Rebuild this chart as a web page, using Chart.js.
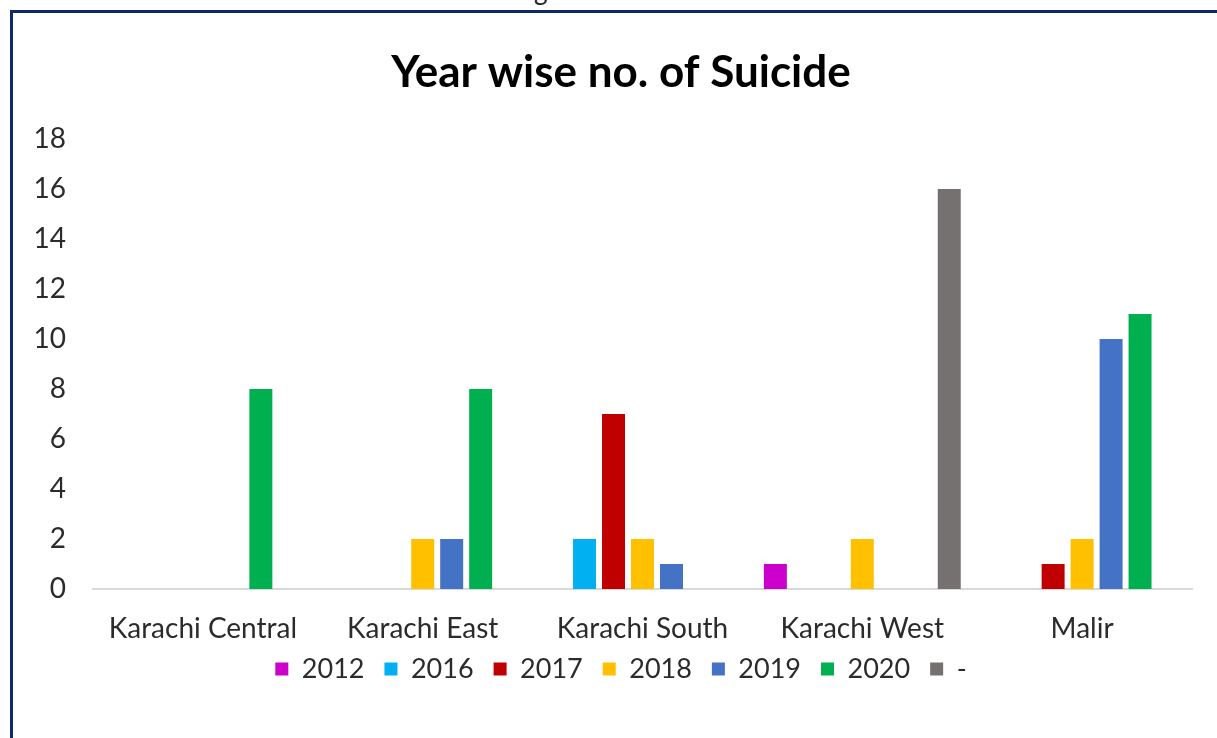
<!DOCTYPE html>
<html>
<head>
<meta charset="utf-8">
<title>Year wise no. of Suicide</title>
<script src="https://cdn.jsdelivr.net/npm/chart.js@4/dist/chart.umd.min.js"></script>
<style>
  html, body { margin: 0; padding: 0; background: #fff; overflow: hidden; width: 1217px; height: 738px; }
  .cut-text { position: absolute; left: 534px; top: -26px; font: 26px Lato, sans-serif; color: #222; }
  .frame {
    position: absolute; left: 10px; top: 10px; width: 1240px; height: 760px;
    border-top: 3px solid #0c2b68; border-left: 3px solid #0c2b68; background: #fff;
  }
  canvas { position: absolute; left: 0; top: 0; }
</style>
</head>
<body>
<div class="cut-text">g</div>
<div class="frame">
  <canvas id="chart" width="1216" height="725"></canvas>
</div>
<script>
  const districts = ['Karachi Central', 'Karachi East', 'Karachi South', 'Karachi West', 'Malir'];
  const years = ['2012', '2016', '2017', '2018', '2019', '2020', '-'];
  const colors = ['#cc00cc', '#00b0f0', '#c00000', '#ffc000', '#4472c4', '#00b050', '#767171'];

  // one array per year, in district order (null = no bar)
  const s2012 = [null, null, null, 1, null];
  const s2016 = [null, null, 2, null, null];
  const s2017 = [null, null, 7, null, 1];
  const s2018 = [null, 2, 2, 2, 2];
  const s2019 = [null, 2, 1, null, 10];
  const s2020 = [8, 8, null, null, 11];
  const sDash = [null, null, null, 16, null];
  const series = [s2012, s2016, s2017, s2018, s2019, s2020, sDash];

  const yMax = 18;
  const yStep = 2;

  const FONT = 'Lato, "Open Sans", sans-serif';
  const TEXT = '#2b2b2b';

  // legend padding also spaces the rows, so pull the legend back up a bit
  const legendLift = {
    id: 'legendLift',
    afterLayout(chart) {
      chart.legend.top -= 13.5;
      chart.legend.bottom -= 13.5;
    }
  };

  new Chart(document.getElementById('chart'), {
    type: 'bar',
    data: {
      labels: districts,
      datasets: years.map((y, i) => ({
        label: y,
        data: series[i],
        backgroundColor: colors[i],
        borderWidth: 0,
        categoryPercentage: 0.923,
        barPercentage: 0.793
      }))
    },
    plugins: [legendLift],
    options: {
      responsive: false,
      animation: false,
      layout: { padding: { left: 0, right: 0, top: 0, bottom: 32 } },
      plugins: {
        tooltip: { enabled: false },
        title: {
          display: true,
          text: 'Year wise no. of Suicide',
          color: '#000',
          font: { family: FONT, size: 44, weight: 'bold' },
          padding: { top: 33.6, bottom: 39.6 }
        },
        legend: {
          position: 'bottom',
          labels: {
            color: TEXT,
            font: { family: FONT, size: 27 },
            boxWidth: 13,
            boxHeight: 13,
            padding: 20
          }
        }
      },
      scales: {
        x: {
          grid: { display: false, drawTicks: false },
          border: { display: true, color: '#d9d9d9', width: 2 },
          ticks: { color: TEXT, font: { family: FONT, size: 28 }, padding: 23, maxRotation: 0 },
          afterFit: (scale) => { scale.height = 60; }
        },
        y: {
          min: 0,
          max: yMax,
          grid: { display: false, drawTicks: false },
          border: { display: false },
          ticks: { stepSize: yStep, color: TEXT, font: { family: FONT, size: 28 }, padding: 27 },
          afterFit: (scale) => { scale.width = 80; }
        },
        // empty right-hand margin, keeps title and legend centred on the frame
        yRight: {
          position: 'right',
          grid: { display: false, drawTicks: false },
          border: { display: false },
          ticks: { display: false },
          afterFit: (scale) => { scale.width = 37; }
        }
      }
    }
  });
</script>
</body>
</html>
